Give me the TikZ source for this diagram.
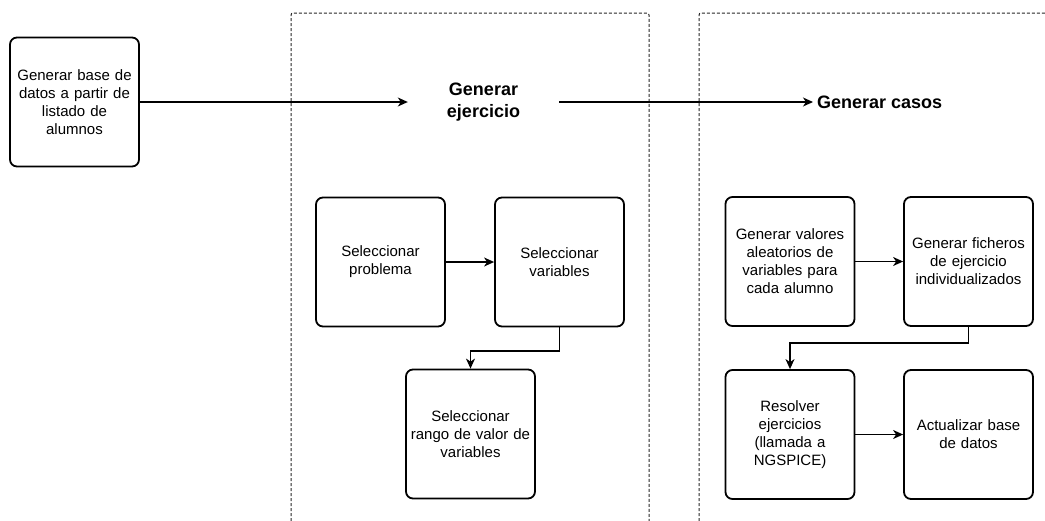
\documentclass[tikz,border=0pt]{standalone}
\usepackage{fontspec}
\setmainfont{Liberation Sans}
\usetikzlibrary{arrows.meta}
\begin{document}
\begin{tikzpicture}[x=1pt,y=-1pt,
  box/.style={draw=black,line width=1.8pt,rounded corners=7pt,minimum width=129pt,minimum height=129pt,inner sep=2pt,align=center,text width=124pt,font=\fontsize{15}{18}\selectfont},
  title/.style={inner sep=0pt,font=\fontsize{18}{21.6}\selectfont\bfseries},
  arr/.style={line width=1.2pt,-{Stealth[length=10pt,width=9pt,inset=3pt]}},
  frame/.style={draw=black!85,line width=1pt,dash pattern=on 3pt off 2pt,rounded corners=2pt}]
\useasboundingbox (0,0) rectangle (1045,520);
% dashed frames
\draw[frame] (291,521) -- (291,13) -- (649,13) -- (649,521);
\draw[frame] (699,521) -- (699,13) -- (1046,13);
% nodes
\node[box] (db) at (74.5,102) {Generar base de\\datos a partir de\\listado de\\alumnos};
\node[title,minimum width=151pt,minimum height=40pt,align=center] (ge) at (483.5,102) {Generar\\ejercicio};
\node[title,anchor=west,inner xsep=4pt] (gc) at (813,102) {Generar casos};
\node[box] (sp) at (380.5,262) {Seleccionar\\problema};
\node[box] (sv) at (559.5,262) {Seleccionar\\variables};
\node[box] (sr) at (470.5,434) {Seleccionar\\rango de valor de\\variables};
\node[box] (gv) at (790,261.5) {Generar valores\\aleatorios de\\variables para\\cada alumno};
\node[box] (gf) at (968.5,261.5) {Generar ficheros\\de ejercicio\\individualizados};
\node[box] (re) at (790,434.5) {Resolver\\ejercicios\\(llamada a\\NGSPICE)};
\node[box] (ac) at (968.5,434.5) {Actualizar base\\de datos};
% connectors
\draw[arr] (db.east) -- (ge.west);
\draw[arr] (ge.east) -- (gc.west);
\draw[arr] (sp.east) -- (sv.west);
\coordinate (k1) at (559.5,351);
\draw[arr] (sv.south) -- (k1) -| (sr.north);
\draw[arr] (gv.east) -- (gf.west);
\coordinate (k2) at (968.5,343);
\draw[arr] (gf.south) -- (k2) -| (re.north);
\draw[arr] (re.east) -- (ac.west);
\end{tikzpicture}
\end{document}
